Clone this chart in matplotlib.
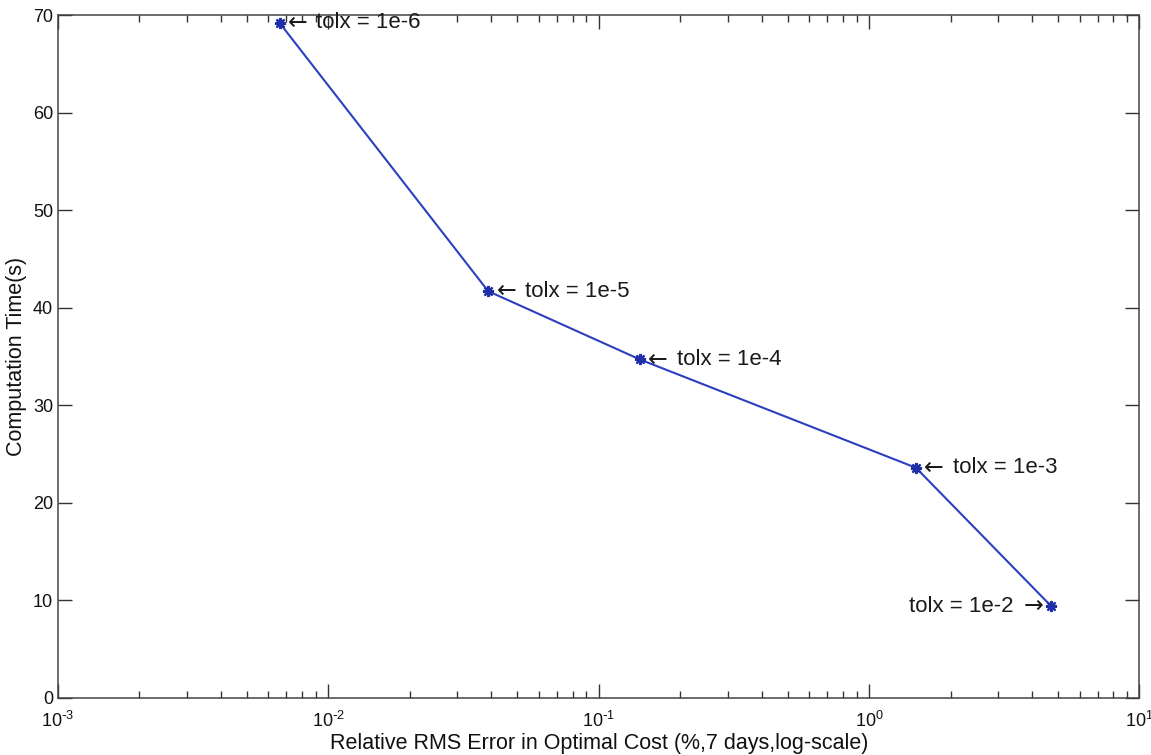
import matplotlib
matplotlib.use("Agg")
import numpy as np
import matplotlib.pyplot as plt
from matplotlib.ticker import LogLocator, NullFormatter, FuncFormatter

plt.rcParams['font.family'] = ['Liberation Sans', 'DejaVu Sans']
plt.rcParams['axes.unicode_minus'] = False

rms_error = [0.0066, 0.039, 0.142, 1.49, 4.72]
comp_time = [69.2, 41.7, 34.7, 23.6, 9.4]
labels = ["tolx = 1e-6", "tolx = 1e-5", "tolx = 1e-4", "tolx = 1e-3", "tolx = 1e-2"]
label_side = ["right", "right", "right", "right", "left"]

fig = plt.figure(figsize=(11.51, 7.55), dpi=100)
ax = fig.add_axes([0.0504, 0.0755, 0.9396, 0.9045])

ax.plot(rms_error, comp_time, color='#2b3fc0', lw=1.5, marker=(8, 2, 0),
        markersize=8, markeredgewidth=1.6, markeredgecolor='#1f2fa8', markerfacecolor='#1f2fa8')

for x, y, lab, side in zip(rms_error, comp_time, labels, label_side):
    if side == "right":
        ax.annotate("\u2190", (x, y), xytext=(6, 0), textcoords='offset points',
                    ha='left', va='center', fontsize=17, color='#1a1a1a',
                    family='DejaVu Sans')
        ax.annotate(lab, (x, y), xytext=(26.5, 0), textcoords='offset points',
                    ha='left', va='center', fontsize=16, color='#1a1a1a')
    else:
        ax.annotate("\u2192", (x, y), xytext=(-6, 0), textcoords='offset points',
                    ha='right', va='center', fontsize=17, color='#1a1a1a',
                    family='DejaVu Sans')
        ax.annotate(lab, (x, y), xytext=(-27, 0), textcoords='offset points',
                    ha='right', va='center', fontsize=16, color='#1a1a1a')

ax.set_xscale('log')
ax.set_xlim(1e-3, 1e1)
ax.set_ylim(0, 70)
ax.set_yticks([0, 10, 20, 30, 40, 50, 60, 70])
ax.xaxis.set_major_locator(LogLocator(base=10, numticks=10))
ax.xaxis.set_major_formatter(FuncFormatter(
    lambda v, p: r'$\mathdefault{10^{%s}}$' % (
        r'\text{-}%d' % abs(int(round(np.log10(v)))) if v < 1 else '%d' % int(round(np.log10(v))))))
ax.xaxis.set_minor_locator(LogLocator(base=10, subs=range(2, 10), numticks=100))
ax.xaxis.set_minor_formatter(NullFormatter())

ax.tick_params(which='both', direction='in', top=True, right=True, colors='#333333',
               labelcolor='#111111', labelsize=13)
ax.tick_params(which='major', length=10, width=1)
ax.tick_params(which='minor', length=5, width=1)
ax.tick_params(axis='x', which='major', pad=9)
for s in ax.spines.values():
    s.set_color('#444444')
    s.set_linewidth(1.1)

ax.set_xlabel("Relative RMS Error in Optimal Cost (%,7 days,log-scale)", fontsize=15.5,
              color='#111111', labelpad=2)
ax.set_ylabel("Computation Time(s)", fontsize=15.5, color='#111111', labelpad=4)

fig.savefig("out.png", dpi=100)
